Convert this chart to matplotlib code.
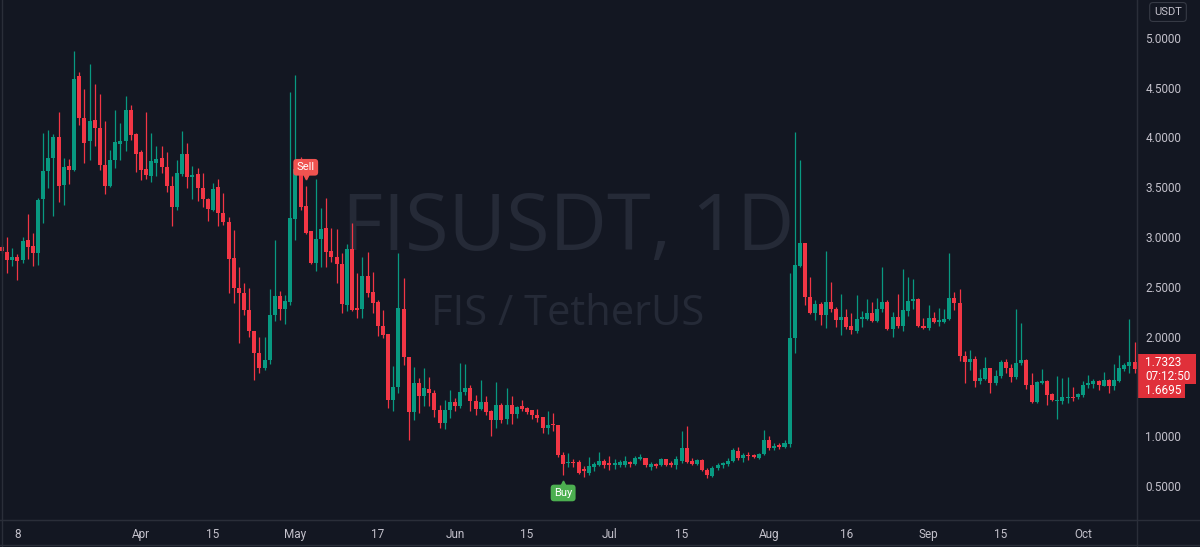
import matplotlib
matplotlib.use('Agg')
import matplotlib.pyplot as plt
import matplotlib.dates as mdates
from matplotlib.patches import Rectangle
import pandas as pd
import numpy as np

# daily candles FIS/USDT
start_date = '2021-03-05'
opens = [2.90, 2.85, 2.77, 2.80, 2.77, 2.97, 2.91, 2.84, 3.38, 3.66,
         3.79, 4.00, 3.52, 3.71, 3.67, 4.62, 4.19, 3.96, 4.17, 4.09,
         3.72, 3.51, 3.77, 3.93, 3.96, 4.28, 4.03, 3.85, 3.68, 3.61,
         3.74, 3.79, 3.70, 3.51, 3.30, 3.63, 3.83, 3.60, 3.63, 3.49,
         3.38, 3.27, 3.50, 3.24, 3.15, 2.79, 2.49, 2.44, 2.27, 2.06,
         1.84, 1.68, 1.77, 2.22, 2.41, 2.28, 2.35, 3.18, 3.70, 3.31,
         3.06, 2.74, 2.98, 3.09, 2.86, 2.80, 2.73, 2.32, 2.88, 2.29,
         2.28, 2.61, 2.45, 2.35, 2.11, 2.03, 1.36, 1.49, 2.28, 1.80,
         1.24, 1.53, 1.40, 1.47, 1.43, 1.26, 1.13, 1.26, 1.34, 1.30,
         1.44, 1.48, 1.35, 1.27, 1.34, 1.25, 1.16, 1.31, 1.17, 1.31,
         1.22, 1.30, 1.28, 1.26, 1.21, 1.19, 1.08, 1.12, 1.11, 0.81,
         0.73, 0.74, 0.74, 0.67, 0.63, 0.69, 0.71, 0.75, 0.73, 0.71,
         0.71, 0.71, 0.74, 0.72, 0.77, 0.78, 0.69, 0.72, 0.71, 0.77,
         0.73, 0.71, 0.75, 0.88, 0.75, 0.72, 0.76, 0.66, 0.60, 0.68,
         0.71, 0.72, 0.75, 0.85, 0.78, 0.81, 0.81, 0.78, 0.82, 0.96,
         0.88, 0.91, 0.89, 0.92, 1.99, 2.71, 2.94, 2.40, 2.24, 2.33,
         2.22, 2.35, 2.28, 2.17, 2.20, 2.11, 2.06, 2.18, 2.18, 2.24,
         2.16, 2.28, 2.35, 2.08, 2.20, 2.11, 2.26, 2.36, 2.38, 2.11,
         2.09, 2.19, 2.15, 2.15, 2.18, 2.39, 2.34, 1.81, 1.74, 1.78,
         1.55, 1.57, 1.68, 1.53, 1.60, 1.74, 1.68, 1.59, 1.73, 1.77,
         1.51, 1.34, 1.53, 1.55, 1.42, 1.35, 1.35, 1.38, 1.39, 1.39,
         1.41, 1.51, 1.52, 1.55, 1.50, 1.56, 1.50, 1.55, 1.67, 1.70,
         1.74]
highs = [2.92, 3.00, 2.89, 2.83, 3.00, 3.23, 3.04, 3.39, 4.04, 4.07,
         4.03, 4.25, 3.79, 3.78, 4.87, 4.66, 4.49, 4.74, 4.54, 4.44,
         4.16, 3.87, 4.28, 4.14, 4.42, 4.33, 4.04, 3.87, 4.26, 4.04,
         3.91, 3.91, 3.85, 3.61, 3.77, 4.06, 3.94, 3.71, 3.69, 3.64,
         3.39, 3.54, 3.58, 3.44, 3.20, 3.07, 2.70, 2.54, 2.49, 2.06,
         2.00, 2.00, 2.48, 2.97, 2.46, 2.42, 4.46, 4.63, 3.80, 3.51,
         3.06, 3.58, 3.29, 3.39, 3.09, 3.08, 2.84, 2.93, 3.14, 2.64,
         2.80, 2.85, 2.65, 2.37, 2.27, 2.03, 1.70, 2.84, 2.59, 1.80,
         1.69, 1.58, 1.68, 1.59, 1.46, 1.31, 1.36, 1.46, 1.38, 1.73,
         1.72, 1.51, 1.41, 1.56, 1.40, 1.26, 1.54, 1.33, 1.48, 1.40,
         1.30, 1.36, 1.29, 1.26, 1.27, 1.19, 1.25, 1.23, 1.11, 0.84,
         0.83, 0.77, 0.76, 0.70, 0.79, 0.74, 0.84, 0.77, 0.80, 0.77,
         0.76, 0.80, 0.75, 0.80, 0.82, 0.78, 0.74, 0.73, 0.78, 0.77,
         0.75, 0.80, 1.05, 1.10, 0.78, 0.77, 0.77, 0.68, 0.70, 0.73,
         0.74, 0.78, 0.88, 0.89, 0.83, 0.84, 0.82, 0.83, 1.06, 1.00,
         0.93, 0.93, 0.96, 2.64, 4.05, 3.77, 2.94, 2.60, 2.37, 2.35,
         2.86, 2.55, 2.30, 2.43, 2.28, 2.24, 2.42, 2.26, 2.38, 2.35,
         2.39, 2.70, 2.37, 2.25, 2.43, 2.68, 2.60, 2.58, 2.39, 2.19,
         2.32, 2.25, 2.29, 2.28, 2.84, 2.45, 2.48, 1.86, 1.87, 1.81,
         1.67, 1.80, 1.68, 1.66, 1.77, 1.78, 1.72, 2.28, 2.14, 1.78,
         1.63, 1.55, 1.67, 1.56, 1.43, 1.60, 1.58, 1.59, 1.49, 1.43,
         1.55, 1.61, 1.57, 1.56, 1.64, 1.57, 1.72, 1.82, 1.73, 2.18,
         1.95]
lows = [2.84, 2.64, 2.71, 2.57, 2.74, 2.78, 2.71, 2.72, 3.14, 3.49,
        3.21, 3.35, 3.32, 3.53, 3.66, 4.12, 3.74, 3.77, 3.91, 3.67,
        3.43, 3.50, 3.69, 3.77, 3.86, 3.97, 3.65, 3.57, 3.58, 3.55,
        3.61, 3.64, 3.45, 3.11, 3.27, 3.61, 3.49, 3.38, 3.36, 3.30,
        3.16, 3.26, 3.11, 3.12, 2.44, 2.34, 1.94, 2.22, 2.00, 1.56,
        1.63, 1.66, 1.72, 2.16, 2.17, 2.13, 2.32, 2.97, 3.27, 3.03,
        2.73, 2.66, 2.70, 2.70, 2.75, 2.54, 2.24, 2.26, 2.26, 2.19,
        2.19, 2.40, 2.24, 2.01, 1.99, 1.28, 1.25, 1.43, 1.71, 0.96,
        1.16, 1.23, 1.30, 1.30, 1.19, 1.08, 1.07, 1.18, 1.25, 1.28,
        1.41, 1.25, 1.21, 1.26, 1.21, 1.00, 1.08, 1.13, 1.12, 1.12,
        1.18, 1.25, 1.22, 1.17, 1.14, 1.03, 1.02, 1.05, 0.79, 0.61,
        0.69, 0.69, 0.62, 0.59, 0.61, 0.65, 0.70, 0.68, 0.66, 0.67,
        0.69, 0.69, 0.69, 0.71, 0.76, 0.69, 0.66, 0.68, 0.70, 0.70,
        0.69, 0.67, 0.73, 0.73, 0.71, 0.71, 0.65, 0.58, 0.59, 0.66,
        0.68, 0.70, 0.74, 0.76, 0.74, 0.76, 0.78, 0.77, 0.81, 0.86,
        0.86, 0.87, 0.88, 0.89, 1.84, 2.70, 2.32, 2.23, 2.17, 2.12,
        2.09, 2.25, 2.10, 2.02, 2.08, 2.03, 2.04, 2.10, 2.17, 2.15,
        2.15, 2.25, 2.07, 2.00, 2.09, 2.06, 2.21, 2.28, 2.10, 2.08,
        2.07, 2.14, 2.11, 2.14, 2.17, 2.27, 1.75, 1.53, 1.66, 1.49,
        1.52, 1.56, 1.43, 1.51, 1.58, 1.63, 1.54, 1.57, 1.71, 1.47,
        1.33, 1.33, 1.52, 1.31, 1.35, 1.17, 1.32, 1.33, 1.35, 1.37,
        1.39, 1.48, 1.48, 1.46, 1.50, 1.43, 1.46, 1.54, 1.65, 1.63,
        1.63]
closes = [2.86, 2.77, 2.80, 2.76, 2.96, 2.90, 2.84, 3.37, 3.66, 3.79,
          4.00, 3.51, 3.70, 3.67, 4.59, 4.19, 3.94, 4.16, 4.09, 3.72,
          3.51, 3.77, 3.95, 3.96, 4.28, 4.02, 3.83, 3.67, 3.62, 3.76,
          3.78, 3.70, 3.51, 3.30, 3.64, 3.83, 3.60, 3.62, 3.49, 3.38,
          3.28, 3.48, 3.24, 3.15, 2.78, 2.49, 2.44, 2.27, 2.06, 1.84,
          1.68, 1.77, 2.22, 2.41, 2.28, 2.36, 3.19, 3.68, 3.30, 3.04,
          2.74, 2.98, 3.08, 2.85, 2.80, 2.73, 2.33, 2.88, 2.27, 2.27,
          2.61, 2.44, 2.34, 2.11, 2.02, 1.36, 1.49, 2.29, 1.80, 1.24,
          1.53, 1.40, 1.48, 1.43, 1.26, 1.13, 1.26, 1.34, 1.30, 1.44,
          1.48, 1.35, 1.27, 1.34, 1.24, 1.16, 1.31, 1.16, 1.31, 1.22,
          1.29, 1.27, 1.24, 1.21, 1.18, 1.08, 1.11, 1.11, 0.81, 0.72,
          0.74, 0.73, 0.63, 0.65, 0.70, 0.72, 0.75, 0.71, 0.71, 0.73,
          0.74, 0.75, 0.72, 0.78, 0.79, 0.71, 0.72, 0.70, 0.77, 0.71,
          0.71, 0.77, 0.88, 0.74, 0.72, 0.76, 0.66, 0.61, 0.68, 0.71,
          0.73, 0.75, 0.86, 0.78, 0.81, 0.80, 0.79, 0.82, 0.96, 0.88,
          0.90, 0.89, 0.93, 1.99, 2.72, 2.94, 2.40, 2.24, 2.33, 2.22,
          2.35, 2.28, 2.17, 2.20, 2.10, 2.07, 2.18, 2.19, 2.24, 2.16,
          2.28, 2.35, 2.08, 2.20, 2.11, 2.27, 2.36, 2.38, 2.11, 2.09,
          2.19, 2.15, 2.16, 2.18, 2.39, 2.34, 1.81, 1.75, 1.78, 1.55,
          1.58, 1.68, 1.53, 1.60, 1.74, 1.68, 1.59, 1.73, 1.77, 1.51,
          1.34, 1.54, 1.55, 1.41, 1.36, 1.36, 1.39, 1.39, 1.38, 1.42,
          1.51, 1.53, 1.55, 1.51, 1.56, 1.50, 1.56, 1.68, 1.71, 1.75,
          1.67]

tick_dates = ['2021-03-08', '2021-04-01', '2021-04-15', '2021-05-01', '2021-05-17',
              '2021-06-01', '2021-06-15', '2021-07-01', '2021-07-15', '2021-08-01',
              '2021-08-16', '2021-09-01', '2021-09-15', '2021-10-01']
tick_labels = ['8', 'Apr', '15', 'May', '17', 'Jun', '15', 'Jul', '15', 'Aug',
               '16', 'Sep', '15', 'Oct']
price_ticks = [0.5, 1.0, 2.0, 2.5, 3.0, 3.5, 4.0, 4.5, 5.0]   # 1.5 sits behind the price labels
sell_date, sell_price = '2021-05-03', 3.70
buy_date, buy_price = '2021-06-22', 0.43
last_price, last_low_label, countdown = '1.7323', '1.6695', '07:12:50'

bg = '#131722'
up_col = '#089981'
dn_col = '#f23645'
line_col = '#2a2e39'
txt_col = '#c3c1cb'

W, H = 1200, 547
fig = plt.figure(figsize=(12, 5.47), dpi=100, facecolor=bg)
ax = fig.add_axes([0, 27 / H, 1137 / W, 520 / H])
ax.set_facecolor(bg)

dates = pd.date_range(start_date, periods=len(opens), freq='D')
x = mdates.date2num(dates)
o = np.array(opens); h = np.array(highs); l = np.array(lows); c = np.array(closes)
cols = np.where(c >= o, up_col, dn_col)

ax.vlines(x, l, h, colors=cols, linewidth=0.9, zorder=2)
body_lo = np.minimum(o, c)
body_h = np.maximum(np.abs(c - o), 0.012)
ax.bar(x, body_h, bottom=body_lo, width=0.78, color=cols, linewidth=0, zorder=3)

apr1 = mdates.date2num(pd.Timestamp('2021-04-01'))
ax.set_xlim(apr1 - 141 / 5.148, apr1 + 996 / 5.148)
ax.set_ylim(0.5 - 34 / 99.6, 0.5 + 486 / 99.6)

# watermark
ax.text(0.4995, 0.519, 'FISUSDT, 1D', transform=ax.transAxes, ha='center', va='baseline',
        fontsize=57, color='#252a37', family='Open Sans', zorder=0)
ax.text(0.4995, 0.375, 'FIS / TetherUS', transform=ax.transAxes, ha='center', va='baseline',
        fontsize=30, color='#252a37', family='Open Sans', zorder=0)

# axes look
for s in ['top', 'left']:
    ax.spines[s].set_visible(False)
ax.spines['right'].set_color(line_col)
ax.spines['bottom'].set_color(line_col)
ax.yaxis.tick_right()
ax.set_yticks(price_ticks)
ax.set_yticklabels(['%.4f' % p for p in price_ticks])
ax.set_xticks(mdates.date2num(pd.to_datetime(tick_dates)))
ax.set_xticklabels(tick_labels)
ax.tick_params(axis='y', length=0, pad=6, labelsize=8.5, labelcolor=txt_col)
ax.tick_params(axis='x', length=0, pad=6, labelsize=8.5, labelcolor=txt_col)
for lab in ax.get_xticklabels() + ax.get_yticklabels():
    lab.set_family('Roboto')

# sell / buy labels
sx = mdates.date2num(pd.Timestamp(sell_date))
bx = mdates.date2num(pd.Timestamp(buy_date))
ax.text(sx, sell_price, 'Sell', ha='center', va='center', fontsize=8, color='white',
        family='Roboto', zorder=6,
        bbox=dict(boxstyle='round,pad=0.3,rounding_size=0.3', fc='#ef5350', ec='none'))
ax.plot(sx, sell_price - 0.1, marker='v', ms=3.5, color='#ef5350', zorder=6)
ax.text(bx, buy_price, 'Buy', ha='center', va='center', fontsize=8, color='white',
        family='Roboto', zorder=6,
        bbox=dict(boxstyle='round,pad=0.3,rounding_size=0.3', fc='#4caf50', ec='none'))
ax.plot(bx, buy_price + 0.1, marker='^', ms=3.5, color='#4caf50', zorder=6)

# frame lines outside the pane
fig.add_artist(plt.Line2D([0, 1], [27 / H, 27 / H], color=line_col, lw=1))
fig.add_artist(plt.Line2D([1137 / W, 1137 / W], [0, 1], color=line_col, lw=1))
fig.add_artist(plt.Line2D([0, 1], [2 / H, 2 / H], color=line_col, lw=1))
fig.add_artist(plt.Line2D([1.5 / W, 1.5 / W], [0, 1], color=line_col, lw=1))

# currency box
fig.text(1168 / W, 1 - 12 / H, 'USDT', ha='center', va='center', fontsize=8,
         color=txt_col, family='Roboto',
         bbox=dict(boxstyle='round,pad=0.4,rounding_size=0.3', fc=bg, ec='#363a45', lw=0.8))

# last price labels
fig.add_artist(Rectangle((1137 / W, 1 - 384 / H), 59 / W, 30 / H, transform=fig.transFigure,
                         fc='#e0303a', ec='none'))
fig.add_artist(Rectangle((1137 / W, 1 - 398 / H), 48 / W, 14 / H, transform=fig.transFigure,
                         fc='#e0303a', ec='none'))
fig.text(1145 / W, 1 - 363 / H, last_price, ha='left', va='center', fontsize=8.5,
         color='white', family='Roboto')
fig.text(1145 / W, 1 - 376 / H, countdown, ha='left', va='center', fontsize=8.5,
         color='white', family='Roboto')
fig.text(1145 / W, 1 - 391 / H, last_low_label, ha='left', va='center', fontsize=8.5,
         color='white', family='Roboto')

fig.savefig('out.png', dpi=100, facecolor=bg)
